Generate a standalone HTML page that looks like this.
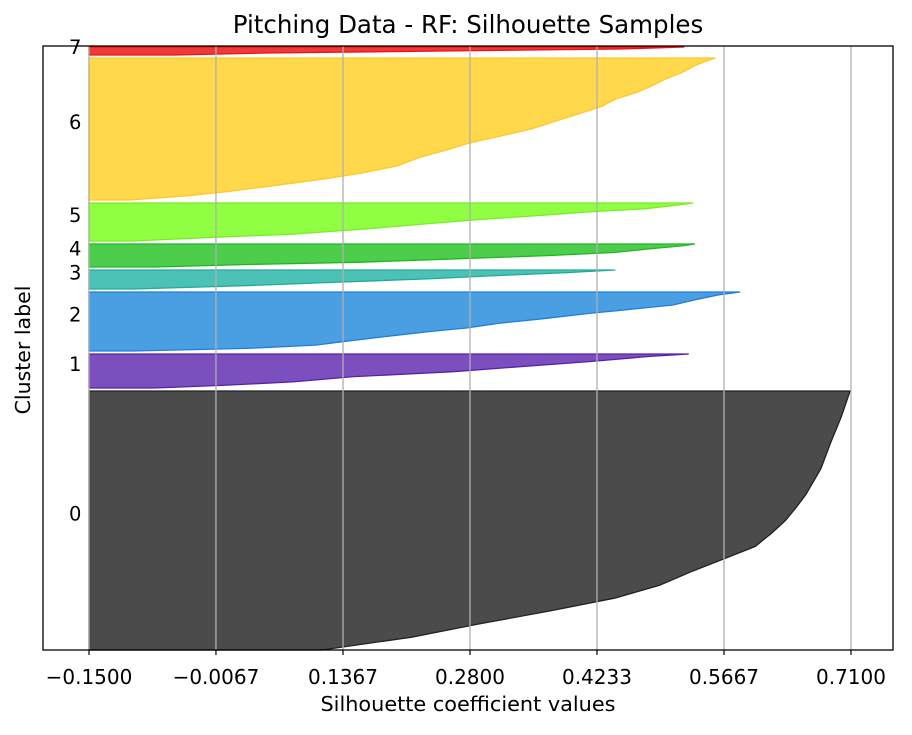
<!DOCTYPE html>
<html><head><meta charset="utf-8"><style>
body{margin:0;background:#fff;}
svg text{font-family:"DejaVu Sans","Liberation Sans",sans-serif;fill:#000;}
</style></head><body>
<svg id="chart" width="912" height="730" xmlns="http://www.w3.org/2000/svg">
<text x="468" y="33" font-size="24.5" text-anchor="middle">Pitching Data - RF: Silhouette Samples</text>
<g id="marks"></g><g id="grid"></g><g id="labels"></g>
<rect x="43" y="46" width="850" height="604" fill="none" stroke="#000" stroke-width="1.3"/>
<g id="ticks"></g>
<text x="468" y="711" font-size="20.8" text-anchor="middle">Silhouette coefficient values</text>
<text transform="translate(30,350) rotate(-90)" font-size="20.5" text-anchor="middle">Cluster label</text>
</svg>
<script>
const tickValues=[-0.15,-0.0067,0.1367,0.28,0.4233,0.5667,0.71];
const tickLabels=["\u22120.1500","\u22120.0067","0.1367","0.2800","0.4233","0.5667","0.7100"];
const clusterNames=["0","1","2","3","4","5","6","7"];
const clusterSizes=[259,34,59,19,23,38,142,8];
const fill=["#4b4b4b","#7b4fbe","#4a9fe3","#4cc2b7","#4ccd4c","#90ff44","#ffd84c","#ef3a3a"];
const edge=["#222222","#5a22a8","#1f7fd8","#22aa99","#22b522","#77ee22","#ffc822","#ee1111"];
const frac0=[0,0.05,0.1,0.15,0.2,0.25,0.3,0.35,0.4,0.45,0.5,0.55,0.6,0.7,0.8,0.9,1];
const vals0=[0.113,0.215,0.289,0.369,0.443,0.494,0.528,0.565,0.602,0.62,0.636,0.648,0.659,0.676,0.687,0.699,0.709];
const frac1=[0,0.08,0.18,0.33,0.48,0.63,0.78,0.93,1];
const vals1=[-0.075,0.003,0.08,0.147,0.261,0.338,0.416,0.483,0.527];
const frac2=[0,0.045,0.1,0.16,0.27,0.33,0.39,0.47,0.55,0.64,0.7,0.78,0.87,0.95,1];
const vals2=[-0.1,0.029,0.106,0.137,0.199,0.235,0.276,0.313,0.364,0.416,0.457,0.509,0.535,0.56,0.585];
const frac3=[0,0.18,0.36,0.54,0.71,0.86,1];
const vals3=[-0.1,0.029,0.132,0.235,0.313,0.39,0.444];
const frac4=[0,0.11,0.21,0.35,0.49,0.63,0.77,0.92,1];
const vals4=[-0.075,0.029,0.158,0.261,0.364,0.442,0.478,0.519,0.534];
const frac5=[0,0.1,0.18,0.31,0.43,0.56,0.68,0.77,0.85,0.93,1];
const vals5=[-0.1,-0.007,0.08,0.158,0.22,0.287,0.364,0.416,0.478,0.509,0.532];
const frac6=[0,0.03,0.06,0.1,0.15,0.19,0.24,0.3,0.36,0.4,0.45,0.5,0.55,0.62,0.66,0.71,0.76,0.8,0.85,0.9,0.95,0.98,1];
const vals6=[-0.104,-0.038,0.007,0.057,0.117,0.158,0.198,0.223,0.258,0.278,0.314,0.349,0.374,0.409,0.429,0.444,0.469,0.484,0.5,0.52,0.535,0.547,0.557];
const frac7=[0,0.25,0.5,0.75,1];
const vals7=[-0.053,0.05,0.25,0.45,0.522];
const fracs=[frac0,frac1,frac2,frac3,frac4,frac5,frac6,frac7];
const vals=[vals0,vals1,vals2,vals3,vals4,vals5,vals6,vals7];
const gap=3, xMinV=-0.2019, xMaxV=0.7574, yMaxV=604;
const L=43,R=893,T=46,B=650;
const xs=v=>L+(v-xMinV)/(xMaxV-xMinV)*(R-L);
const ys=v=>B-v/yMaxV*(B-T);
const NS="http://www.w3.org/2000/svg";
const mk=(t,a)=>{const e=document.createElementNS(NS,t);for(const k in a)e.setAttribute(k,a[k]);return e;};
const grid=document.getElementById('grid'),ticks=document.getElementById('ticks'),marks=document.getElementById('marks'),labels=document.getElementById('labels');
tickValues.forEach((v,i)=>{
  const x=xs(v);
  const g=mk('line',{x1:x,x2:x,y1:T,y2:B,stroke:'#b0b0b0','stroke-width':1.3});
  
  
  grid.appendChild(g);
  const t=mk('line',{x1:x,x2:x,y1:B,y2:B+5,stroke:'#000','stroke-width':1.2});
  
  
  ticks.appendChild(t);
  const tl=mk('text',{x:x,y:B+34,'font-size':20,'text-anchor':'middle'});
  tl.textContent=tickLabels[i];
  
  
  ticks.appendChild(tl);
});
let lower=0;
clusterSizes.forEach((n,i)=>{
  const x0=xs(-0.15);
  let pts=[[x0,ys(lower)]];
  fracs[i].forEach((f,j)=>pts.push([xs(vals[i][j]),ys(lower+f*n)]));
  pts.push([x0,ys(lower+n)]);
  const p=mk('polygon',{points:pts.map(q=>q.join(',')).join(' '),fill:fill[i],stroke:edge[i],'stroke-width':1.3});
  
  
  marks.appendChild(p);
  const t=mk('text',{x:69,y:ys(lower+0.5*n)+(i==7?3:0),'font-size':19.5});
  t.textContent=clusterNames[i];
  
  
  labels.appendChild(t);
  lower+=n+gap;
});
</script>
</body></html>
